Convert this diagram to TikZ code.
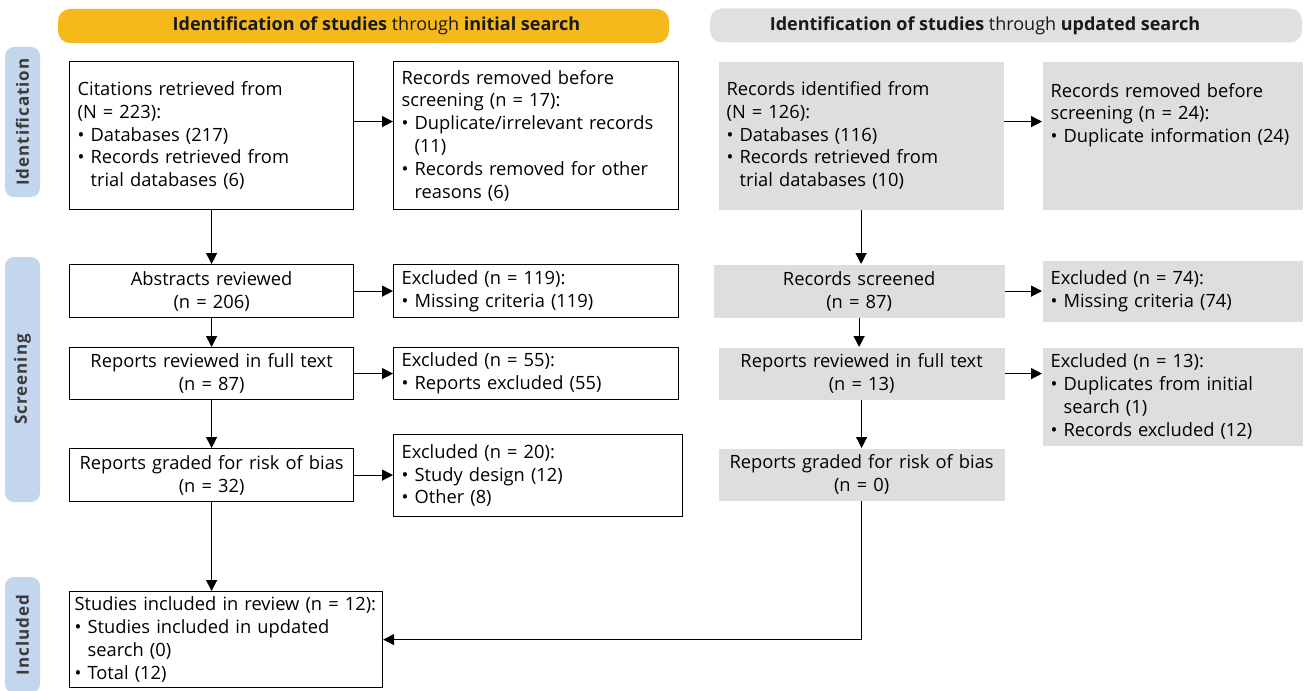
\documentclass[tikz,border=0pt]{standalone}
\usepackage{fontspec}
\setmainfont{Open Sans}
\usetikzlibrary{arrows.meta}
\definecolor{hdyellow}{HTML}{F6B91C}
\definecolor{hdgray}{HTML}{E0E0E0}
\definecolor{boxgray}{HTML}{DEDEDE}
\definecolor{barblue}{HTML}{C4D6EE}
\definecolor{bartext}{HTML}{3A3A3A}
\newcommand{\bl}{\textbullet\ }
\newcommand{\bi}{\phantom{\textbullet\ }}

\begin{document}
\begin{tikzpicture}[x=1pt,y=-1pt,
  box/.style={anchor=north west,draw=black,line width=1.2pt,fill=white,align=left,inner xsep=8pt,inner ysep=0pt,font=\fontsize{18.3}{22.8}\selectfont},
  boxc/.style={box,align=center},
  gbox/.style={box,draw=none,fill=boxgray},
  gboxc/.style={gbox,align=center},
  sz/.style n args={3}{minimum width=#1pt,text width=#2pt,minimum height=#3pt},
  head/.style={rounded corners=12pt,minimum height=34pt},
  headtxt/.style={font=\fontsize{18}{20}\selectfont,text=black!90},
  bar/.style={rotate=90,fill=barblue,rounded corners=9pt,minimum height=35pt,text=bartext,font=\bfseries\fontsize{17}{18}\selectfont\addfontfeature{LetterSpace=6}},
  arr/.style={-{Triangle[length=11pt,width=11pt]},line width=1.2pt}]
\useasboundingbox (0,0) rectangle (1305,690);

\node[head,fill=hdyellow,minimum width=611pt,label={[headtxt,xshift=13pt]center:\textbf{Identification of studies} through \textbf{initial search}}] (hdini) at (363.5,26) {};
\node[head,fill=hdgray,minimum width=592pt,label={[headtxt,xshift=-21pt]center:\textbf{Identification of studies} through \textbf{updated search}}] (hdupd) at (1006,25.5) {};

\node[bar,minimum width=150pt] (barid) at (22.5,122) {Identification};
\node[bar,minimum width=245pt] (barsc) at (22.5,379.5) {Screening};
\node[bar,minimum width=116pt] (barin) at (22.5,635) {Included};

\node[box,sz={284}{268}{148}] (cit) at (69,61) {Citations retrieved from\\(N = 223):\\\bl Databases (217)\\\bl Records retrieved from\\\bi trial databases (6)};
\node[box,sz={285}{269}{148}] (rmv) at (393,61) {Records removed before\\screening (n = 17):\\\bl Duplicate/irrelevant records\\\bi(11)\\\bl Records removed for other\\\bi reasons (6)};
\node[boxc,sz={284}{268}{53}] (abs) at (69,264) {Abstracts reviewed\\(n = 206)};
\node[box,sz={285}{269}{53}] (exa) at (393,264) {Excluded (n = 119):\\\bl Missing criteria (119)};
\node[boxc,sz={284}{268}{52}] (rev) at (69,347) {Reports reviewed in full text\\(n = 87)};
\node[box,sz={285}{269}{52}] (exr) at (393,347) {Excluded (n = 55):\\\bl Reports excluded (55)};
\node[boxc,sz={284}{268}{53}] (grd) at (69,448) {Reports graded for risk of bias\\(n = 32)};
\node[box,sz={289}{273}{82}] (exg) at (393,434) {Excluded (n = 20):\\\bl Study design (12)\\\bl Other (8)};
\node[box,sz={313}{303}{96},inner xsep=5pt] (inc) at (69,591) {Studies included in review (n = 12):\\\bl Studies included in updated\\\bi search (0)\\\bl Total (12)};

\node[gbox,sz={285}{269}{148}] (rid) at (718,61) {Records identified from\\(N = 126):\\\bl Databases (116)\\\bl Records retrieved from\\\bi trial databases (10)};
\node[gbox,sz={260}{244}{148}] (rrm) at (1042,61) {Records removed before\\screening (n = 24):\\\bl Duplicate information (24)\\\mbox{}\\\mbox{}};
\node[gboxc,sz={291}{275}{53}] (scr) at (713,264) {Records screened\\(n = 87)};
\node[gbox,sz={260}{244}{61}] (ex74) at (1042,260) {Excluded (n = 74):\\\bl Missing criteria (74)};
\node[gboxc,sz={286}{270}{52}] (rv13) at (718,347) {Reports reviewed in full text\\(n = 13)};
\node[gbox,sz={260}{244}{98}] (ex13) at (1042,347) {Excluded (n = 13):\\\bl Duplicates from initial\\\bi search (1)\\\bl Records excluded (12)};
\node[gboxc,sz={286}{270}{52}] (gr0) at (718,448) {Reports graded for risk of bias\\(n = 0)};

\draw[arr] ([yshift=14pt]cit.east) -- ([yshift=14pt]cit.east -| rmv.west);
\draw[arr] (cit.south) -- (cit.south |- abs.north);
\draw[arr] (abs.east) -- (abs.east -| exa.west);
\draw[arr] (abs.south) -- (abs.south |- rev.north);
\draw[arr] (rev.east) -- (rev.east -| exr.west);
\draw[arr] (rev.south) -- (rev.south |- grd.north);
\draw[arr] (grd.east) -- (grd.east -| exg.west);
\draw[arr] (grd.south) -- (grd.south |- inc.north);

\draw[arr] ([yshift=14pt]rid.east) -- ([yshift=14pt]rid.east -| rrm.west);
\draw[arr] (rid.south) -- (rid.south |- scr.north);
\draw[arr] (scr.east) -- (scr.east -| ex74.west);
\draw[arr] (scr.south) -- (scr.south |- rv13.north);
\draw[arr] (rv13.east) -- (rv13.east -| ex13.west);
\draw[arr] (rv13.south) -- (rv13.south |- gr0.north);
\draw[arr] (gr0.south) |- (inc.east);

\end{tikzpicture}
\end{document}
